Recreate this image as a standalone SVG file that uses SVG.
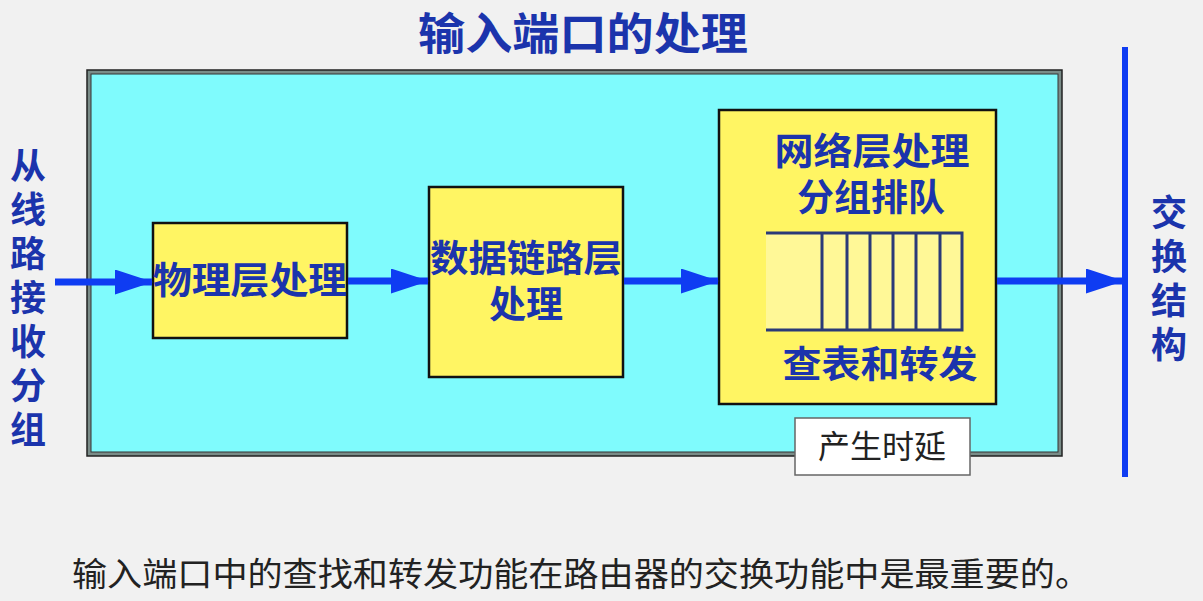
<svg xmlns="http://www.w3.org/2000/svg" width="1203" height="601" viewBox="0 0 1203 601">
<defs>
<marker id="ah" viewBox="0 0 38 25" refX="37" refY="12.5" markerWidth="38" markerHeight="25" markerUnits="userSpaceOnUse" orient="auto" preserveAspectRatio="none">
<path d="M0,0 L38,12.5 L0,25 z" fill="#0F3CF2"/>
</marker>
</defs>
<style>
.bt{font-family:"Noto Sans CJK SC",sans-serif;font-weight:bold;fill:#1B34AC;}
.vt{writing-mode:tb;letter-spacing:8px;}
.box{fill:#FFF563;stroke:#111;stroke-width:2.5;}
.conn{stroke:#0F3CF2;stroke-width:7;fill:none;marker-end:url(#ah);}
.q{stroke:#2A3A78;stroke-width:3;fill:none;}
.plain{font-family:"Liberation Serif","Noto Sans CJK SC",serif;fill:#222;}
</style>
<rect width="1203" height="601" fill="#F1F1F1"/>
<text class="bt" x="583" y="50" font-size="44" text-anchor="middle" textLength="330" lengthAdjust="spacingAndGlyphs">输入端口的处理</text>
<g id="port">
<rect x="87" y="70" width="975" height="386" fill="#7A8C88" stroke="#222" stroke-width="1.5"/>
<rect x="91" y="74" width="967" height="378" fill="#7FFBFD" stroke="#333" stroke-width="1"/>
</g>
<g id="left-label">
<text class="bt vt" x="28" y="147" font-size="36">从线路接收分组</text>
</g>
<g id="fabric">
<line x1="1125" y1="47" x2="1125" y2="477" stroke="#0F3CF2" stroke-width="6"/>
<text class="bt vt" x="1169" y="194" font-size="36">交换结构</text>
</g>
<g id="phys">
<rect class="box" x="153" y="223" width="194" height="115"/>
<text class="bt" x="250" y="294" font-size="37" text-anchor="middle" textLength="194" lengthAdjust="spacingAndGlyphs">物理层处理</text>
</g>
<g id="datalink">
<rect class="box" x="429" y="187" width="194" height="190"/>
<text class="bt" font-size="37" text-anchor="middle"><tspan x="526" y="272" textLength="192" lengthAdjust="spacingAndGlyphs">数据链路层</tspan><tspan x="526" y="318">处理</tspan></text>
</g>
<g id="network">
<rect class="box" x="719" y="110" width="277" height="294"/>
<text class="bt" font-size="37" text-anchor="middle"><tspan x="872" y="165" textLength="195" lengthAdjust="spacingAndGlyphs">网络层处理</tspan><tspan x="871" y="211">分组排队</tspan></text>
<rect x="766" y="233" width="197" height="97" fill="#FFF897"/>
<path class="q" d="M766,233 H962 V330 H766 M822,233 V330 M847,233 V330 M870,233 V330 M893,233 V330 M916,233 V330 M940,233 V330"/>
<text class="bt" x="880" y="378" font-size="37" text-anchor="middle" textLength="195" lengthAdjust="spacingAndGlyphs">查表和转发</text>
</g>
<g id="delay">
<rect x="795" y="418" width="175" height="57" fill="#FFFFFF" stroke="#666" stroke-width="1.5"/>
<text class="plain" x="882" y="458" font-size="32" text-anchor="middle">产生时延</text>
</g>
<g id="connectors">
<line class="conn" x1="55" y1="282" x2="152" y2="282"/>
<line class="conn" x1="348" y1="281" x2="428" y2="281"/>
<line class="conn" x1="624" y1="281" x2="718" y2="281"/>
<line class="conn" x1="997" y1="281" x2="1123" y2="281"/>
</g>
<text class="plain" x="72" y="586" font-size="33" textLength="1018" lengthAdjust="spacingAndGlyphs">输入端口中的查找和转发功能在路由器的交换功能中是最重要的。</text>
</svg>
